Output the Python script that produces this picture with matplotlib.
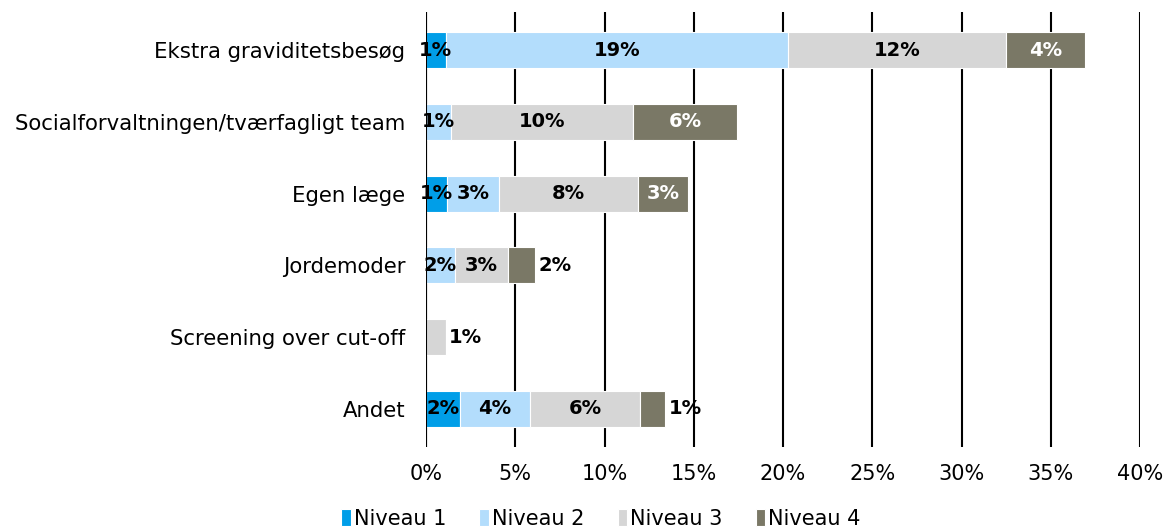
import numpy as np
import matplotlib.pyplot as plt

# Data (share of respondents, %)
categories = ['Ekstra graviditetsbesøg',
              'Socialforvaltningen/tværfagligt team',
              'Egen læge',
              'Jordemoder',
              'Screening over cut-off',
              'Andet']
niveau1 = [1.1, 0.0, 1.2, 0.0, 0.0, 1.9]
niveau2 = [19.2, 1.4, 2.9, 1.6, 0.0, 3.9]
niveau3 = [12.2, 10.2, 7.8, 3.0, 1.1, 6.2]
niveau4 = [4.4, 5.8, 2.8, 1.5, 0.0, 1.4]
series_names = ['Niveau 1', 'Niveau 2', 'Niveau 3', 'Niveau 4']
xticks = [0, 5, 10, 15, 20, 25, 30, 35, 40]

colors = ['#009ee8', '#b3ddfc', '#d6d6d6', '#7a7866']
label_colors = ['black', 'black', 'black', 'white']

series = [niveau1, niveau2, niveau3, niveau4]
y = np.arange(len(categories))

fig = plt.figure(figsize=(11.67, 5.32), dpi=100)
ax = fig.add_axes([0.365, 0.160, 0.612, 0.817])

# vertical gridlines (drawn below bars)
ax.set_axisbelow(True)
ax.grid(axis='x', color='black', linewidth=1.5)
for s in ax.spines.values():
    s.set_visible(False)

left = np.zeros(len(categories))
for k, vals in enumerate(series):
    vals = np.array(vals)
    ax.barh(y, vals, left=left, height=0.5, color=colors[k],
            edgecolor='white', linewidth=0.8, label=series_names[k])
    for i, v in enumerate(vals):
        if v <= 0:
            continue
        is_last = all(series[j][i] == 0 for j in range(k + 1, 4))
        if is_last and v < 2:
            # small end segment: label to the right of the bar
            ax.text(left[i] + v + 0.2, i, f'{round(v):.0f}%', ha='left',
                    va='center', fontsize=14, fontweight='bold', color='black')
        else:
            ax.text(left[i] + v / 2, i, f'{round(v):.0f}%', ha='center',
                    va='center', fontsize=14, fontweight='bold',
                    color=label_colors[k])
    left += vals

ax.set_xlim(0, 40)
ax.set_ylim(5.53, -0.53)
ax.set_xticks(xticks)
ax.set_xticklabels([f'{t}%' for t in xticks], fontsize=15)
ax.set_yticks(y)
ax.set_yticklabels(categories, fontsize=15.3)
ax.tick_params(axis='x', length=0, pad=12)
ax.tick_params(axis='y', length=0, pad=15)
ax.axvline(0, color='black', linewidth=1.5)

fig.legend(loc='center', bbox_to_anchor=(601 / 1167, 1 - 519 / 532),
           ncol=4, frameon=False, fontsize=15,
           handlelength=0.45, handleheight=0.85, handletextpad=0.15,
           columnspacing=1.6, borderpad=0.2)

fig.savefig('out.png', dpi=100)
